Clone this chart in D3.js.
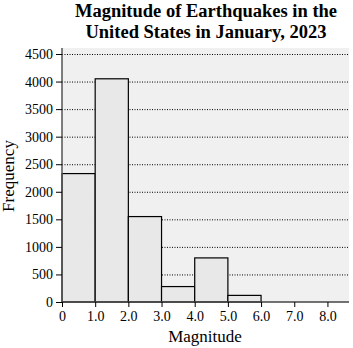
<!DOCTYPE html>
<html>
<head>
<meta charset="utf-8">
<script src="https://cdn.jsdelivr.net/npm/d3@7"></script>
<style>
  html, body { margin: 0; padding: 0; background: #fff; }
  svg { display: block; }
</style>
</head>
<body>
<svg id="chart" width="353" height="348"></svg>
<script>
// Histogram bins (magnitude lower/upper edges) and their counts
const binStarts = [0, 1, 2, 3, 4, 5, 6, 7];
const binEnds   = [1, 2, 3, 4, 5, 6, 7, 8];
const counts    = [2330, 4050, 1550, 280, 800, 120, 0, 0];

const xTicks = [0, 1, 2, 3, 4, 5, 6, 7, 8];
const xTickLabels = ["0", "1.0", "2.0", "3.0", "4.0", "5.0", "6.0", "7.0", "8.0"];
const yTicks = [0, 500, 1000, 1500, 2000, 2500, 3000, 3500, 4000, 4500];

const titleLines = ["Magnitude of Earthquakes in the", "United States in January, 2023"];
const xLabel = "Magnitude";
const yLabel = "Frequency";

const svg = d3.select("#chart");
const serif = "'Liberation Serif', 'DejaVu Serif', serif";

const plotLeft = 62, plotRight = 349, plotTop = 48, plotBottom = 302;

const x = d3.scaleLinear().domain([0, 8.65]).range([plotLeft, plotRight]);
const y = d3.scaleLinear().domain([0, 4500]).range([plotBottom, 54]);

// plot background
svg.append("rect")
  .attr("x", plotLeft).attr("y", plotTop)
  .attr("width", plotRight - plotLeft).attr("height", plotBottom - plotTop)
  .attr("fill", "#f0f0f0");

// dotted horizontal grid lines
svg.append("g")
  .selectAll("line")
  .data(yTicks.filter(d => d > 0))
  .join("line")
  .attr("x1", plotLeft).attr("x2", plotRight)
  .attr("y1", d => y(d) + 0.5).attr("y2", d => y(d) + 0.5)
  .attr("stroke", "#000")
  .attr("stroke-width", 1)
  .attr("stroke-dasharray", "1,1.5");

// bars
const bins = binStarts.map((s, i) => ({ x0: s, x1: binEnds[i], n: counts[i] }));
svg.append("g")
  .selectAll("rect")
  .data(bins.filter(d => d.n > 0))
  .join("rect")
  .attr("x", d => x(d.x0))
  .attr("y", d => y(d.n))
  .attr("width", d => x(d.x1) - x(d.x0))
  .attr("height", d => y(0) - y(d.n))
  .attr("fill", "#e8e8e8")
  .attr("stroke", "#000")
  .attr("stroke-width", 1.2);

// y axis
const yAxis = d3.axisLeft(y).tickValues(yTicks).tickSize(6).tickPadding(3).tickFormat(d3.format("d"));
const gy = svg.append("g").attr("transform", `translate(${plotLeft},0)`).call(yAxis)
  .attr("font-family", serif).attr("font-size", 14);
gy.select(".domain").attr("stroke", "#555").attr("stroke-width", 1.5)
  .attr("d", `M0,${plotTop}V${plotBottom}`);
gy.selectAll(".tick line").attr("stroke", "#000");
gy.selectAll(".tick text")
  .style("font-family", serif).style("font-size", "14px").attr("fill", "#000");

// x axis
const xAxis = d3.axisBottom(x).tickValues(xTicks).tickSize(5).tickPadding(4)
  .tickFormat((d, i) => xTickLabels[i]);
const gx = svg.append("g").attr("transform", `translate(0,${plotBottom})`).call(xAxis)
  .attr("font-family", serif).attr("font-size", 14);
gx.select(".domain").attr("stroke", "#444").attr("stroke-width", 1.5)
  .attr("d", `M${plotLeft},0H${plotRight}`);
gx.selectAll(".tick line").attr("stroke", "#000");
gx.selectAll(".tick text")
  .style("font-family", serif).style("font-size", "14px").attr("fill", "#000");

// title, two lines
svg.append("text")
  .attr("x", 206).attr("y", 17)
  .attr("text-anchor", "middle")
  .style("font-family", serif).style("font-weight", "bold").style("font-size", "18.5px")
  .selectAll("tspan")
  .data(titleLines)
  .join("tspan")
  .attr("x", 206)
  .attr("dy", (d, i) => i === 0 ? 0 : 20.5)
  .text(d => d);

// axis labels
svg.append("text")
  .attr("x", 205).attr("y", 342)
  .attr("text-anchor", "middle")
  .style("font-family", serif).style("font-size", "17px")
  .text(xLabel);

svg.append("text")
  .attr("transform", "translate(14,176) rotate(-90)")
  .attr("text-anchor", "middle")
  .style("font-family", serif).style("font-size", "17px")
  .text(yLabel);
</script>
</body>
</html>
